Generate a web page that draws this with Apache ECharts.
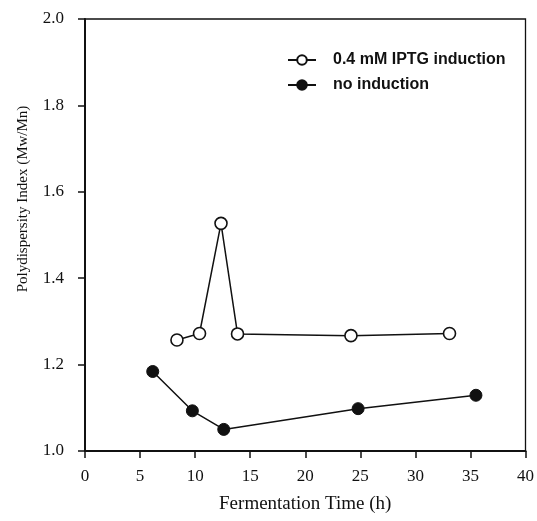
<!DOCTYPE html>
<html>
<head>
<meta charset="utf-8">
<script src="https://cdn.jsdelivr.net/npm/echarts@6/dist/echarts.min.js"></script>
<style>
html,body{margin:0;padding:0;background:#fff;}
#chart{width:537px;height:521px;}
</style>
</head>
<body>
<div id="chart"></div>
<script>
// Data
var iptgTime = [8.35, 10.4, 12.35, 13.85, 24.15, 33.1];
var iptgPDI  = [1.257, 1.272, 1.527, 1.271, 1.267, 1.272];
var noneTime = [6.15, 9.75, 12.6, 24.8, 35.5];
var nonePDI  = [1.184, 1.093, 1.050, 1.098, 1.129];
var seriesNames = ['0.4 mM IPTG induction', 'no induction'];
var xTitle = 'Fermentation Time (h)';
var yTitle = 'Polydispersity Index (Mw/Mn)';

function pairs(xs, ys){ return xs.map(function(x,i){ return [x, ys[i]]; }); }

var chart = echarts.init(document.getElementById('chart'), null, {renderer:'canvas'});
var serif = '"Liberation Serif", "Times New Roman", serif';
chart.setOption({
  animation:false,
  backgroundColor:'#fff',
  grid:{left:85, right:9, top:19, bottom:70, show:true, borderColor:'#111', borderWidth:1.3},
  legend:{
    orient:'vertical', left:282, top:47, itemWidth:28, itemHeight:12, itemGap:9,
    textStyle:{fontFamily:'"Liberation Sans", Arial, sans-serif', fontSize:16, fontWeight:'bold', color:'#111', padding:[0,0,0,12]},
    data:seriesNames
  },
  xAxis:{
    type:'value', min:0, max:40, interval:5,
    name:xTitle, nameLocation:'middle', nameGap:44,
    nameTextStyle:{fontFamily:serif, fontSize:19, color:'#111'},
    axisLine:{lineStyle:{color:'#111', width:2}},
    axisTick:{inside:false, length:7, lineStyle:{color:'#111', width:1.5}},
    axisLabel:{fontFamily:serif, fontSize:17, color:'#111', margin:17},
    splitLine:{show:false}
  },
  yAxis:{
    type:'value', min:1.0, max:2.0, interval:0.2,
    name:yTitle, nameLocation:'middle', nameGap:54,
    nameTextStyle:{fontFamily:serif, fontSize:15, color:'#111', padding:[0,0,0,72]},
    axisLine:{lineStyle:{color:'#111', width:2}},
    axisTick:{inside:false, length:7, lineStyle:{color:'#111', width:1.5}},
    axisLabel:{fontFamily:serif, fontSize:17, color:'#111', margin:21, formatter:function(v){return v.toFixed(1);}},
    splitLine:{show:false}
  },
  series:[
    {
      name:seriesNames[0], type:'line', data:pairs(iptgTime, iptgPDI),
      symbol:'circle', symbolSize:12,
      lineStyle:{color:'#111', width:1.5},
      itemStyle:{color:'#fff', borderColor:'#111', borderWidth:1.6},
      z:3
    },
    {
      name:seriesNames[1], type:'line', data:pairs(noneTime, nonePDI),
      symbol:'circle', symbolSize:12,
      lineStyle:{color:'#111', width:1.5},
      itemStyle:{color:'#111', borderColor:'#111', borderWidth:1},
      z:3
    }
  ]
});
</script>
</body>
</html>
